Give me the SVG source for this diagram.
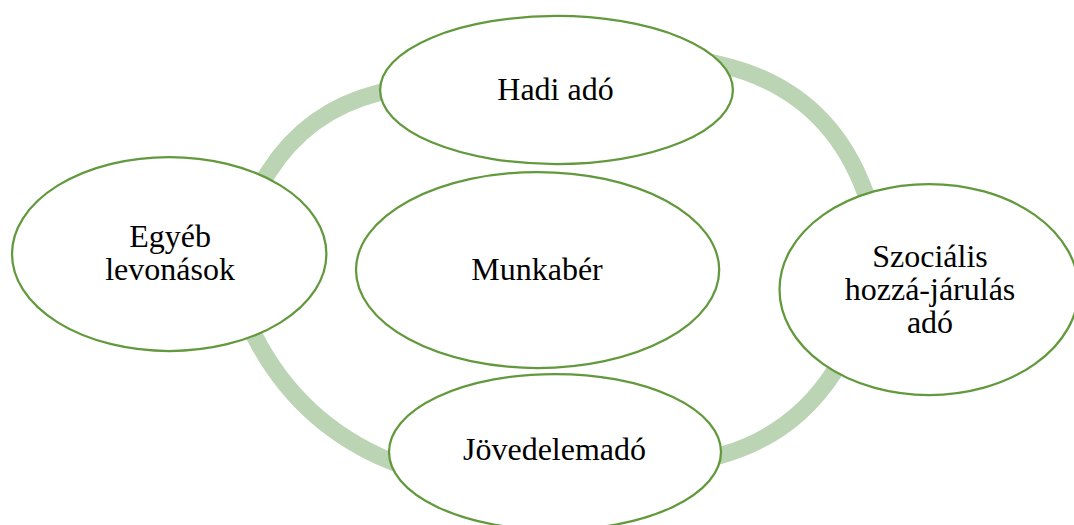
<svg xmlns="http://www.w3.org/2000/svg" width="1074" height="525" viewBox="0 0 1074 525">
  <style>
    .ring { fill: none; stroke: #BBD4B3; stroke-width: 17; stroke-linecap: butt; stroke-linejoin: round; }
    .node { fill: #FFFFFF; stroke: #62993C; stroke-width: 2.25; }
    .lbl { font-family: "Liberation Serif", "Times New Roman", serif; font-size: 32px; fill: #000000; text-anchor: middle; }
  </style>
  <rect x="0" y="0" width="1074" height="525" fill="#FFFFFF"/>
  <g id="connectors">
    <path class="ring" d="M392.6,89.3 L378,93 Q307,111 268,173 L260,185.7"/>
    <path class="ring" d="M697.7,59.2 L722,65 Q827.5,90.2 865,192 L871.9,210.8"/>
    <path class="ring" d="M245.8,319.2 L255,337 Q299.8,423.7 390,461 L408.5,468.6"/>
    <path class="ring" d="M844.9,355.2 L834,372 Q793.6,434.5 722,455 L702.8,460.5"/>
  </g>
  <g id="node-hadi">
    <ellipse class="node" cx="556.5" cy="90" rx="176.4" ry="74"/>
    <text class="lbl" x="555.5" y="100">Hadi adó</text>
  </g>
  <g id="node-egyeb">
    <ellipse class="node" cx="169.2" cy="254" rx="157.2" ry="97"/>
    <text class="lbl" x="170" y="247">Egyéb</text>
    <text class="lbl" x="170" y="280">levonások</text>
  </g>
  <g id="node-munkaber">
    <ellipse class="node" cx="537.6" cy="270" rx="181.6" ry="98"/>
    <text class="lbl" x="537" y="280">Munkabér</text>
  </g>
  <g id="node-szocialis">
    <ellipse class="node" cx="929" cy="289.5" rx="149.5" ry="105.5"/>
    <text class="lbl" x="930" y="267">Szociális</text>
    <text class="lbl" x="930" y="300">hozzá-járulás</text>
    <text class="lbl" x="930" y="333">adó</text>
  </g>
  <g id="node-jovedelemado">
    <ellipse class="node" cx="555" cy="452" rx="166" ry="78"/>
    <text class="lbl" x="554.5" y="460">Jövedelemadó</text>
  </g>
</svg>
